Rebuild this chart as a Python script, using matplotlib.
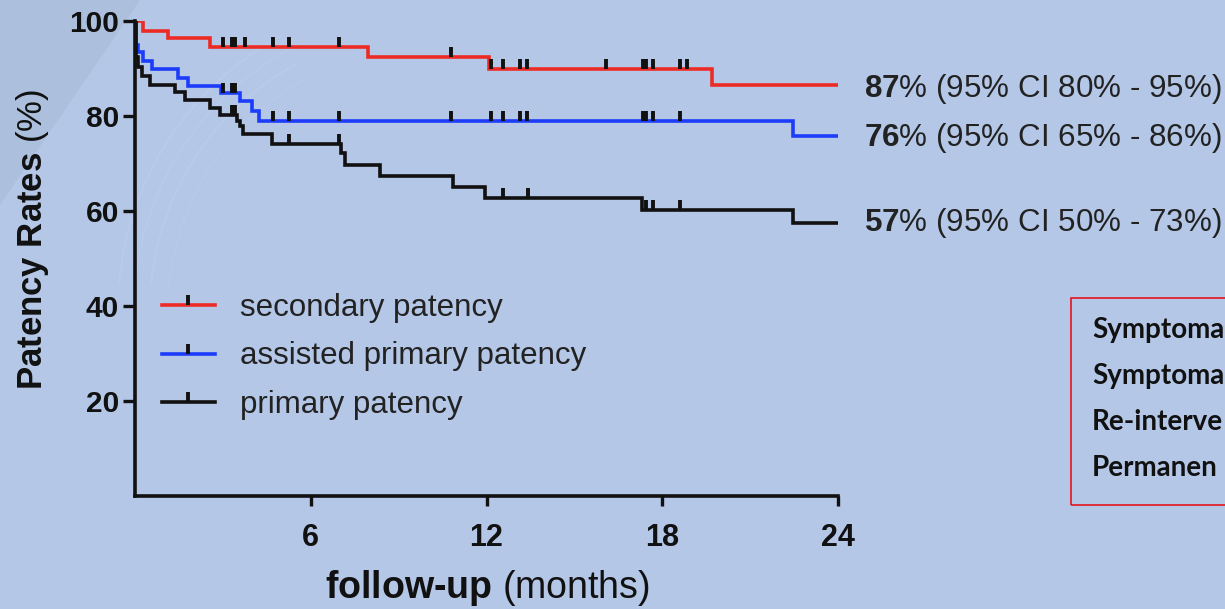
import numpy as np
import matplotlib.pyplot as plt
from matplotlib.lines import Line2D
from matplotlib.patches import Rectangle, Polygon, Arc

plt.rcParams['font.family'] = ['Liberation Sans', 'DejaVu Sans']
plt.rcParams['mathtext.fontset'] = 'custom'
plt.rcParams['mathtext.rm'] = 'Liberation Sans'
plt.rcParams['mathtext.bf'] = 'Liberation Sans:bold'

# Kaplan-Meier steps (months, %)
sec_t = [0, 0.27, 1.13, 2.56, 7.95, 12.1, 19.7, 24]
sec_s = [100, 98.0, 96.4, 94.6, 92.5, 90.0, 86.6, 86.6]
sec_cens = [2.99, 3.3, 3.41, 3.75, 4.7, 5.27, 6.96, 10.8, 12.17, 12.57, 13.14,
            13.38, 16.08, 17.33, 17.46, 17.68, 18.6, 18.83]

apr_t = [0, 0.03, 0.1, 0.27, 0.58, 1.47, 1.81, 2.95, 3.58, 3.99, 4.23, 22.46, 24]
apr_s = [100, 95.0, 93.5, 91.6, 89.9, 88.1, 86.3, 84.8, 83.2, 81.1, 78.9, 75.7, 75.7]
apr_cens = [2.99, 3.3, 3.41, 4.7, 5.27, 6.96, 10.8, 12.17, 12.57, 13.14, 13.38,
            17.33, 17.46, 17.68, 18.6]

pri_t = [0, 0.03, 0.1, 0.24, 0.51, 1.37, 1.71, 2.56, 2.9, 3.48, 3.58, 3.69, 4.68,
         7.03, 7.17, 8.36, 10.85, 11.95, 17.3, 22.46, 24]
pri_s = [100, 92.5, 90.3, 88.5, 86.5, 85.0, 83.4, 81.6, 80.2, 79.0, 78.0, 76.2, 74.1,
         72.3, 69.6, 67.3, 65.0, 62.7, 60.3, 57.5, 57.5]
pri_cens = [3.3, 3.41, 5.27, 6.96, 12.57, 13.4, 17.46, 17.68, 18.6]

labels = ['secondary patency', 'assisted primary patency', 'primary patency']
colors = ['#EC2B25', '#1C3CFA', '#111111']
final_pct = [87, 76, 57]
ci_lo = [80, 65, 50]
ci_hi = [95, 86, 73]
label_dy = [-3, -1.3, -0.3]   # nudge of the end labels in points

# the box at the right is cut by the slide edge, only this much shows
box_lines = ['Symptoma', 'Symptoma', 'Re-interve', 'Permanen']

bg = '#B4C7E7'
fig = plt.figure(figsize=(12.25, 6.09), dpi=100, facecolor=bg)

# faint slide decoration in the top-left corner (kept under the axes)
px = lambda x, y: (x / 1225, (609 - y) / 609)
fig.patches.append(Polygon([px(0, 0), px(140, 0), px(0, 205)], closed=True,
                           transform=fig.transFigure, facecolor='#A3B9D3',
                           edgecolor='none', alpha=0.45, zorder=-2))
for r, a in zip([262, 280, 296, 312], [0.05, 0.08, 0.06, 0.08]):
    fig.patches.append(Arc(px(430, 310), 2 * r / 1225, 2 * r / 609, theta1=105,
                           theta2=170, transform=fig.transFigure, color='white',
                           alpha=a, lw=1.3, zorder=-1))

ax = fig.add_axes([135 / 1225, 113 / 609, 703 / 1225, 475 / 609])
ax.set_facecolor('none')
ax.set_zorder(1)

tick_mark = [(0, 0), (0, 1)]
curves = [(sec_t, sec_s, sec_cens), (apr_t, apr_s, apr_cens), (pri_t, pri_s, pri_cens)]
handles = []
for (t, s, cens), col, lab in zip(curves, colors, labels):
    ax.step(t, s, where='post', color=col, lw=2.6, solid_joinstyle='miter', zorder=3)
    t_arr = np.array(t)
    s_arr = np.array(s)
    idx = np.searchsorted(t_arr, cens, side='right') - 1
    ax.plot(cens, s_arr[idx], ls='none', marker=tick_mark, ms=15, mew=2.8,
            color='#111111', zorder=4)
    handles.append(Line2D([], [], color=col, lw=2.6, marker=tick_mark, ms=15,
                          mew=2.8, markeredgecolor='#111111'))

leg = ax.legend(handles, labels, loc='upper left', bbox_to_anchor=(0.038, 0.428),
                frameon=False, fontsize=22.5, handlelength=1.7, handletextpad=0.8,
                labelspacing=0.6, borderpad=0, borderaxespad=0, numpoints=1)
for txt in leg.get_texts():
    txt.set_color('#222222')

ax.set_xlim(0, 24)
ax.set_ylim(0, 100)
ax.set_xticks([6, 12, 18, 24])
ax.set_yticks([20, 40, 60, 80, 100])
for side in ['top', 'right']:
    ax.spines[side].set_visible(False)
for side in ['left', 'bottom']:
    ax.spines[side].set_linewidth(2.6)
    ax.spines[side].set_color('#111111')
ax.tick_params(axis='y', length=8.5, width=2.4, pad=3, labelsize=21.5, colors='#111111')
ax.tick_params(axis='x', length=7.5, width=2.4, pad=12, labelsize=22, colors='#111111')
for lbl in ax.get_xticklabels() + ax.get_yticklabels():
    lbl.set_fontweight('bold')

ax.set_xlabel('follow-up $\\mathrm{(months)}$', fontsize=27, fontweight='bold',
              color='#111111')
ax.xaxis.set_label_coords(0.5014, -0.152)
ax.set_ylabel('Patency Rates $\\mathrm{(\\%)}$', fontsize=25, fontweight='bold',
              color='#111111')
ax.yaxis.set_label_coords(-0.12, 0.54)

# end-of-curve estimates
for (t, s, _), p, lo, hi, dy in zip(curves, final_pct, ci_lo, ci_hi, label_dy):
    ax.annotate(f'$\\mathbf{{{p}}}$% (95% CI {lo}% - {hi}%)', xy=(t[-1], s[-1]),
                xytext=(19, dy), textcoords='offset points', va='center', ha='left',
                fontsize=22.6, color='#222222', annotation_clip=False)

# red framed box at the right
fig.patches.append(Rectangle(px(1071, 505), 200 / 1225, 207 / 609,
                             transform=fig.transFigure, fill=False,
                             edgecolor='#E8141B', lw=1.2))
for i, line in enumerate(box_lines):
    fig.text(1092 / 1225, (609 - 338 - 46 * i) / 609, line, fontsize=20,
             fontweight='bold', family='Lato', color='#111111', va='baseline')

fig.savefig('out.png', dpi=100, facecolor=bg)
